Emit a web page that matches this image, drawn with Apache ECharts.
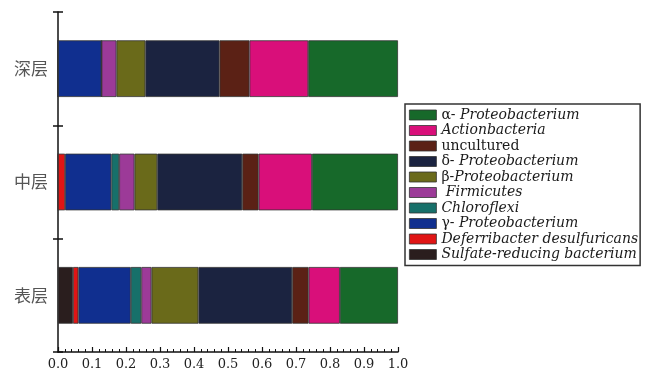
<!DOCTYPE html>
<html><head><meta charset="utf-8">
<script src="https://cdn.jsdelivr.net/npm/echarts@6/dist/echarts.min.js"></script>
<style>html,body{margin:0;padding:0;background:#fff}#c{width:649px;height:376px}</style>
</head><body><div id="c"></div>
<script>
// categories bottom -> top
const categories = ['表层', '中层', '深层'];
const xTicks = ['0.0','0.1','0.2','0.3','0.4','0.5','0.6','0.7','0.8','0.9','1.0'];
// series in stacking order (left to right), values per [表层, 中层, 深层]
const seriesNames = ['Sulfate-reducing bacterium','Deferribacter desulfuricans','γ- Proteobacterium','Chloroflexi','Firmicutes','β-Proteobacterium','δ- Proteobacterium','uncultured','Actionbacteria','α- Proteobacterium'];
const sulfate     = [0.044, 0.000, 0.000];
const deferri     = [0.016, 0.021, 0.000];
const gammaP      = [0.154, 0.136, 0.128];
const chloroflexi = [0.031, 0.023, 0.000];
const firmicutes  = [0.030, 0.045, 0.044];
const betaP       = [0.138, 0.067, 0.085];
const deltaP      = [0.276, 0.250, 0.218];
const uncultured  = [0.048, 0.048, 0.088];
const actionb     = [0.092, 0.157, 0.173];
const alphaP      = [0.171, 0.253, 0.264];
const values = [sulfate, deferri, gammaP, chloroflexi, firmicutes, betaP, deltaP, uncultured, actionb, alphaP];
const colors = ['#2a1e1e','#e01515','#102f8f','#17706a','#9c3a98','#6a6a1a','#1b2340','#5b2115','#d90f7a','#17692a'];
const legendRich = {
  'Sulfate-reducing bacterium': '{i|Sulfate-reducing bacterium}',
  'Deferribacter desulfuricans': '{i|Deferribacter desulfuricans}',
  'γ- Proteobacterium': '{n|γ- }{i|Proteobacterium}',
  'Chloroflexi': '{i|Chloroflexi}',
  'Firmicutes': '{i| Firmicutes}',
  'β-Proteobacterium': '{n|β-}{i|Proteobacterium}',
  'δ- Proteobacterium': '{n|δ- }{i|Proteobacterium}',
  'uncultured': '{n|uncultured}',
  'Actionbacteria': '{i|Actionbacteria}',
  'α- Proteobacterium': '{n|α- }{i|Proteobacterium}'
};
const chart = echarts.init(document.getElementById('c'), null, {renderer:'canvas'});
const series = seriesNames.map((n, k) => ({
  name: n, type: 'bar', stack: 'all', barWidth: '50%',
  data: values[k],
  itemStyle: { color: colors[k], borderColor: '#333', borderWidth: 0.8 },
  emphasis: { disabled: true }
}));
const txt = { fontFamily: 'DejaVu Serif', fontSize: 14, color: '#1a1a1a', lineHeight: 14 };
chart.setOption({
  animation: false,
  grid: { left: 58, right: 251, top: 12, bottom: 24 },
  legend: {
    orient: 'vertical', left: 405, top: 104,
    data: seriesNames.slice().reverse(),
    itemWidth: 27, itemHeight: 10, itemGap: 1.5,
    padding: [4, 2, 4, 4],
    borderColor: '#333', borderWidth: 1.5,
    icon: 'rect',
    itemStyle: { borderColor: '#333', borderWidth: 0.8 },
    formatter: n => legendRich[n],
    textStyle: {
      ...txt,
      rich: {
        n: { ...txt },
        i: { ...txt, fontStyle: 'italic' }
      }
    }
  },
  xAxis: {
    type: 'value', min: 0, max: 1, interval: 0.1,
    axisLine: { show: true, lineStyle: { color: '#111', width: 1.5 } },
    axisTick: { show: true, inside: true, length: 5, lineStyle: { color: '#111', width: 1.2 } },
    minorTick: { show: true, splitNumber: 5, length: 3, lineStyle: { color: '#111', width: 1 } },
    splitLine: { show: false },
    axisLabel: { fontFamily: 'DejaVu Serif', fontSize: 13, color: '#222', margin: 6,
      formatter: (v) => xTicks[Math.round(v * 10)] }
  },
  yAxis: [{
    type: 'category', data: categories,
    axisLine: { show: true, lineStyle: { color: '#111', width: 1.5 } },
    axisTick: { show: true, inside: false, length: 5, lineStyle: { color: '#111', width: 1.5 } },
    axisLabel: { fontFamily: 'Noto Sans CJK SC', fontSize: 17, color: '#555', margin: 10 }
  }, {
    type: 'category', data: categories, position: 'left',
    axisLine: { show: false },
    axisTick: { show: true, inside: true, length: 5, lineStyle: { color: '#111', width: 1.5 } },
    axisLabel: { show: false }
  }],
  series: series
});
</script></body></html>
